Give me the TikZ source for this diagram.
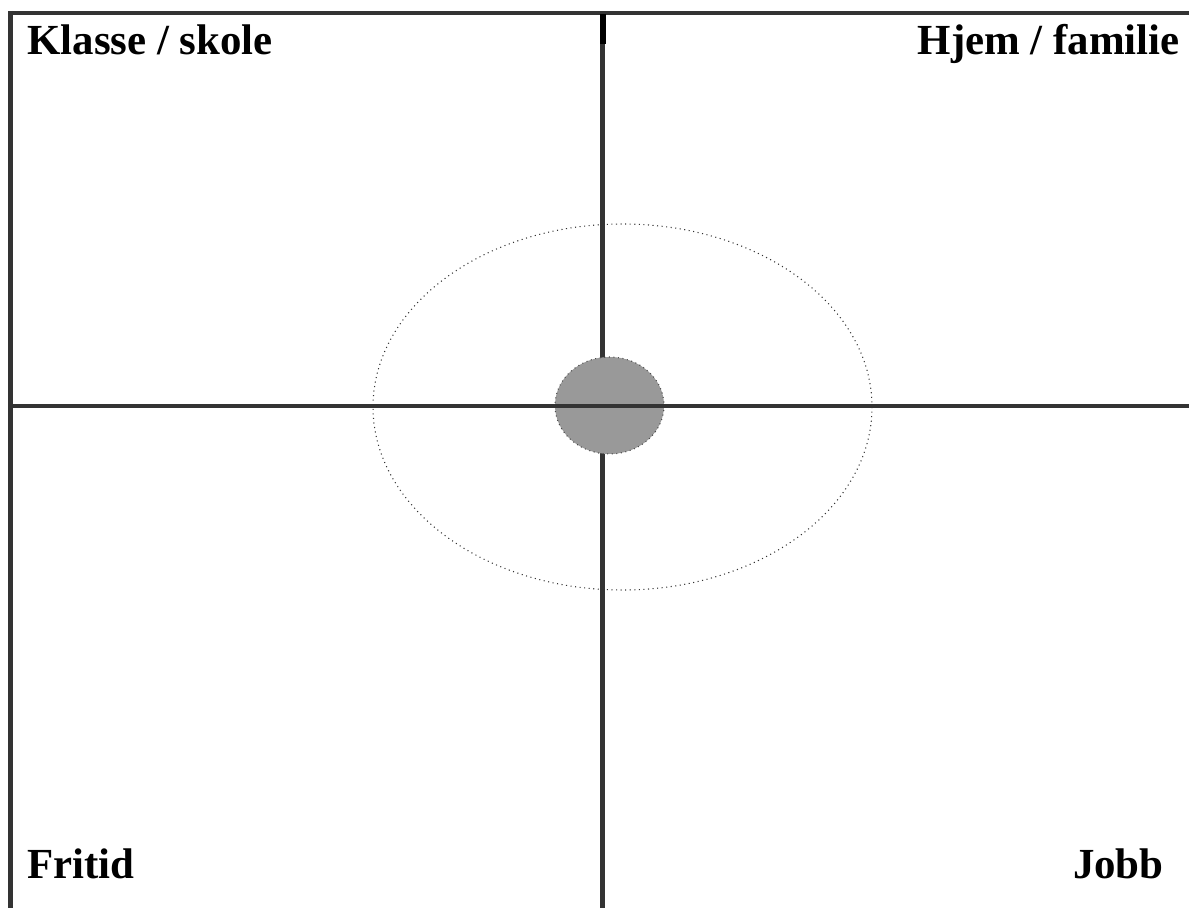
\documentclass[tikz,border=0pt]{standalone}
\usepackage{fontspec}
\setmainfont{Liberation Serif}
\usepackage{xcolor}
\usetikzlibrary{positioning,calc}

\definecolor{axisgray}{HTML}{333333}
\definecolor{corefill}{HTML}{999999}

\begin{document}
\begin{tikzpicture}[
    x={(0.02cm,0)}, y={(0,-0.02cm)},
    axis/.style={draw=axisgray, line width=0.09cm},
    label/.style={font=\fontsize{24.4}{27}\selectfont\bfseries, inner sep=0pt},
    ring/.style={draw=black!80, dotted, line width=0.6pt},
    core/.style={fill=corefill, draw=black!70, dotted, line width=0.6pt}
]

\useasboundingbox (0,0) rectangle (1189,908);

% ============== FRAME AND CROSS ==============
\coordinate (topL) at (8,13);
\coordinate (topR) at (1189,13);
\coordinate (leftT) at (10.5,11);
\coordinate (leftB) at (10.5,908);
\coordinate (midL) at (8,406);
\coordinate (midR) at (1189,406);
\coordinate (vertT) at (602.5,13);
\coordinate (vertB) at (602.5,908);
\coordinate (centre) at (609.5,405.5);

% outer ring (dotted)
\draw[ring] (622.5,407) ellipse [x radius=249.5, y radius=183];

\draw[axis] (topL) -- (topR);
\draw[axis] (leftT) -- (leftB);
\draw[axis] (vertT) -- (vertB);
\draw[black, line width=0.11cm] (603,14) -- (603,44);

% core
\draw[core] (centre) ellipse [x radius=54.5, y radius=48.5];

\draw[axis] (midL) -- (midR);

% ============== LABELS ==============
\node[label, anchor=base west] (klasse) at (27,55) {Klasse / skole};
\node[label, anchor=base east] (hjem) at (1180,55) {Hjem / familie};
\node[label, anchor=base west] (fritid) at (27,878) {Fritid};
\node[label, anchor=base east] (jobb) at (1164,878) {Jobb};

\end{tikzpicture}
\end{document}
